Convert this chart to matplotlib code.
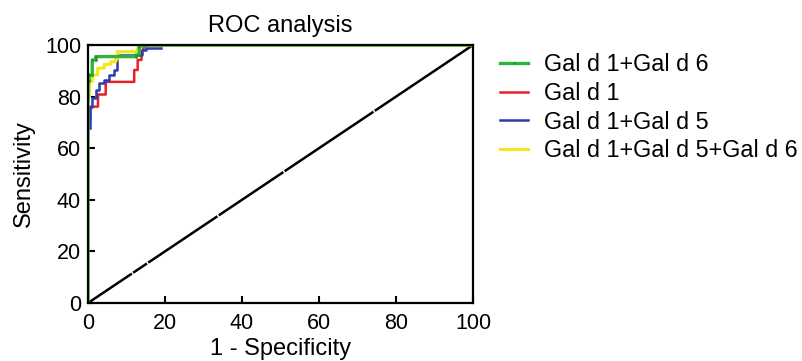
import numpy as np
import matplotlib
matplotlib.use("Agg")
import matplotlib.pyplot as plt

plt.rcParams['font.family'] = ['Liberation Sans', 'DejaVu Sans']
plt.rcParams['lines.scale_dashes'] = False

# ROC curves (1 - specificity %, sensitivity %)
green_x = [0, 0, 0.3, 0.3, 1.1, 1.1, 2.0, 2.0, 12.4, 12.4, 13.3, 13.3, 15, 100]
green_y = [0, 86, 86, 88.4, 88.4, 94.2, 94.2, 95.5, 95.5, 96.1, 96.1, 99.4, 100, 100]

red_x = [0.6, 0.6, 2.6, 2.6, 4.6, 4.6, 12.0, 12.0, 12.9, 12.9, 13.9, 13.9, 15, 100]
red_y = [70.9, 76.1, 76.1, 80.8, 80.8, 85.7, 85.7, 90.3, 90.3, 94.2, 94.2, 97.4, 100, 100]

blue_x = [0.6, 0.6, 1.1, 1.1, 2.0, 2.0, 2.9, 2.9, 4.2, 4.2, 5.5, 5.5, 6.8, 6.8,
          7.6, 7.6, 14.1, 14.1, 15.0, 15.0, 19.0]
blue_y = [67.8, 76.1, 76.1, 79.3, 79.3, 82.5, 82.5, 85.1, 85.1, 86.4, 86.4, 88.4,
          88.4, 90.3, 90.3, 96.1, 96.1, 97.9, 97.9, 99.0, 99.0]

yellow_x = [0.4, 0.4, 1.2, 1.2, 2.5, 2.5, 4.2, 4.2, 5.9, 5.9, 7.2, 7.2, 7.6, 7.6,
            12.8, 12.8, 14.0, 100]
yellow_y = [80, 85.9, 85.9, 88.4, 88.4, 91.0, 91.0, 92.5, 92.5, 93.5, 93.5, 94.5,
            94.5, 97.4, 97.4, 98.8, 100, 100]

ref_x = [0, 100]
ref_y = [0, 100]

labels = ['Gal d 1+Gal d 6', 'Gal d 1', 'Gal d 1+Gal d 5', 'Gal d 1+Gal d 5+Gal d 6']
ticks = [0, 20, 40, 60, 80, 100]

fig = plt.figure(figsize=(8.03, 3.61), dpi=100)
ax = fig.add_axes([0.1096, 0.1607, 0.4795, 0.7147])

# diagonal reference line with the little breaks seen in the original
ax.plot(ref_x, ref_y, color='black', lw=1.8,
        linestyle=(0, (38, 1.1, 12, 1.1, 60, 1.1, 56, 1.1, 77, 1.1, 300, 1)))

h_red, = ax.plot(red_x, red_y, color='#e8202a', lw=1.8)
h_blue, = ax.plot(blue_x, blue_y, color='#2a3fae', lw=1.8)
h_yel, = ax.plot(yellow_x, yellow_y, color='#f2e71c', lw=2.2)
h_green, = ax.plot(green_x, green_y, color='#2fb43a', lw=2.4,
                   marker='o', markersize=2.0, markeredgewidth=0,
                   markerfacecolor='#1f9a2a', markevery=0.004)

ax.set_xlim(0, 100)
ax.set_ylim(0, 100)
ax.set_xticks(ticks)
ax.set_yticks(ticks)
ax.tick_params(direction='in', length=5, width=1.5, labelsize=15.5,
               top=False, right=False)
ax.tick_params(axis='x', pad=7)
ax.tick_params(axis='y', pad=5)
for sp in ax.spines.values():
    sp.set_linewidth(1.6)

ax.set_title('ROC analysis', fontsize=17, pad=9)
ax.set_xlabel('1 - Specificity', fontsize=17, labelpad=3)
ax.set_ylabel('Sensitivity', fontsize=17, labelpad=7)

fig.legend([h_green, h_red, h_blue, h_yel], labels,
           loc='upper left', bbox_to_anchor=(0.6227, 0.852), frameon=False,
           fontsize=16.8, borderpad=0, borderaxespad=0, handlelength=1.2,
           handletextpad=0.7, labelspacing=0.24)

fig.savefig('out.png', dpi=100)
